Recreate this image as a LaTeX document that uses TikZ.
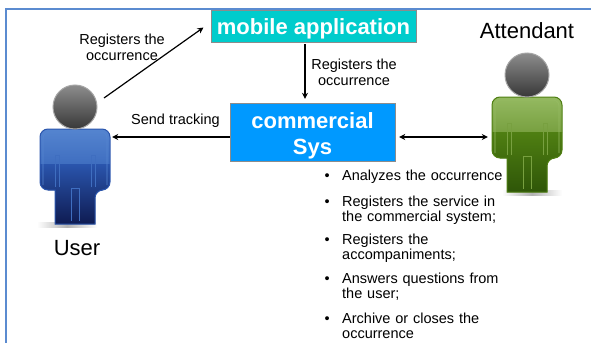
\documentclass[tikz,border=0pt]{standalone}
\usepackage{fontspec}
\setmainfont{Liberation Sans}
\usetikzlibrary{arrows.meta,positioning}

\definecolor{frameblue}{HTML}{5B8BD0}
\definecolor{mobileteal}{HTML}{00CCCC}
\definecolor{sysblue}{HTML}{0099FF}
\definecolor{bluetop}{HTML}{5585D0}
\definecolor{bluelow}{HTML}{3F6EC0}
\definecolor{bluemid}{HTML}{2A55AD}
\definecolor{blueend}{HTML}{0E1A50}
\definecolor{greentop}{HTML}{95BA62}
\definecolor{greenlow}{HTML}{78A040}
\definecolor{greenmid}{HTML}{4F7F12}
\definecolor{greenend}{HTML}{2E5508}

\newcommand\personpath{[rounded corners=8pt] (-20,83) -- (-35,83) -- (-35,22) -- (35,22) -- (35,83) -- (20,83) [sharp corners] -- (20,117) -- (-20,117) -- cycle}

\begin{document}
\begin{tikzpicture}
  [x=1pt,y=-1pt,>={Stealth[length=6pt,width=6pt]},node distance=9pt,
   flow/.style={->,line width=1.2pt},
   mobilebox/.style={rectangle,draw=black!45,fill=mobileteal,text=white,inner ysep=0pt,minimum width=205pt,minimum height=32pt,font=\fontsize{22}{26}\selectfont\bfseries},
   sysbox/.style={rectangle,draw=black!45,fill=sysblue,text=white,align=center,inner ysep=0pt,minimum width=165pt,minimum height=58pt,font=\fontsize{22}{26}\selectfont\bfseries},
   note/.style={inner sep=0pt,align=center,font=\fontsize{14.5}{16}\selectfont},
   role/.style={inner sep=0pt,font=\fontsize{22}{26}\selectfont},
   item/.style={inner sep=0pt,anchor=north west,align=left,text width=175pt,
     font=\fontsize{14.5}{15}\selectfont,
     execute at begin node={\rule{0pt}{11pt}\llap{\textbullet\hspace{12.5pt}}},
     execute at end node={\rule[-4pt]{0pt}{4pt}}},
   pics/person/.style n args={5}{code={
     \fill [left color=white,right color=white,middle color=black!30] (#5-30,115) rectangle (#5+30,120);
     \begin{scope}
       \clip \personpath;
       \fill [top color=#1,bottom color=#2] (-36,21) rectangle (36,57);
       \fill [top color=#3,bottom color=#4] (-36,57) rectangle (36,118);
     \end{scope}
     \draw [#3,line width=1pt] \personpath;
     \draw [#1,line width=.8pt,rounded corners=6pt] (-32,78) -- (-32,25) -- (32,25) -- (32,78);
     \draw [#2,line width=.8pt] (-20,80) -- (-20,48) -- (-16,48) -- (-16,80);
     \draw [#2,line width=.8pt] (20,80) -- (20,48) -- (16,48) -- (16,80);
     \draw [#2,line width=.8pt] (-4,114) -- (-4,81) -- (4,81) -- (4,114);
     \node (-head) [circle,draw=black!35,line width=1pt,top color=black!45,bottom color=black!78,minimum size=44pt,inner sep=0pt] at (0,0) {};
     \node (-body) [minimum width=70pt,minimum height=95pt,inner sep=0pt] at (0,69.5) {};
   }}]

  \useasboundingbox (0,0) rectangle (591,343);
  \draw [frameblue,line width=1.5pt] (591,9) -- (6,9) -- (6,343);

  % Boxes
  \node [mobilebox] (mobile) at (313.5,26) {\rule{0pt}{21pt}mobile application};
  \node [sysbox]    (sys)    at (312.5,132) {\rule{0pt}{24pt}commercial\\Sys};

  % People
  \pic (user) at (75,107) {person={bluetop}{bluelow}{bluemid}{blueend}{-8}};
  \pic (attendant) at (527,75) {person={greentop}{greenlow}{greenmid}{greenend}{5}};
  \node [role] (user label)      [below=16pt of user-body,xshift=2pt] {User};
  \node [role] (attendant label) [above=14pt of attendant-head] {Attendant};

  % Arrows
  \coordinate (user out) at (104,98);
  \draw [flow,shorten >=9pt] (user out) -- ([yshift=3.7pt]mobile.west);
  \draw [flow,shorten <=2pt,shorten >=4pt] ([xshift=-8.5pt]mobile.south) -- ([xshift=-7.5pt]sys.north);
  \draw [flow,shorten >=2pt] ([yshift=-5pt]sys.west) -- ([yshift=39.5pt]user-body.east);
  \draw [flow,<->,shorten <=4pt,shorten >=4pt] ([yshift=-5pt]sys.east) -- ([yshift=7.5pt]attendant-body.west);

  % Arrow labels
  \node [note] (mobile note) at (122,47) {Registers the\\occurrence};
  \node [note] (sys note)    at (354,72) {Registers the\\occurrence};
  \node [note] (track note)  at (175.5,121) {Send tracking};

  % Tasks of the attendant
  \node [item] (task1) at (342,169.5) {Analyzes the occurrence};
  \node [item] (task2) [below=10pt of task1.south west,anchor=north west] {Registers the service in\\the commercial system;};
  \node [item] (task3) [below=8pt of task2.south west,anchor=north west] {Registers the\\accompaniments;};
  \node [item] (task4) [below=of task3.south west,anchor=north west] {Answers questions from\\the user;};
  \node [item] (task5) [below=of task4.south west,anchor=north west] {Archive or closes the\\occurrence};

\end{tikzpicture}
\end{document}
